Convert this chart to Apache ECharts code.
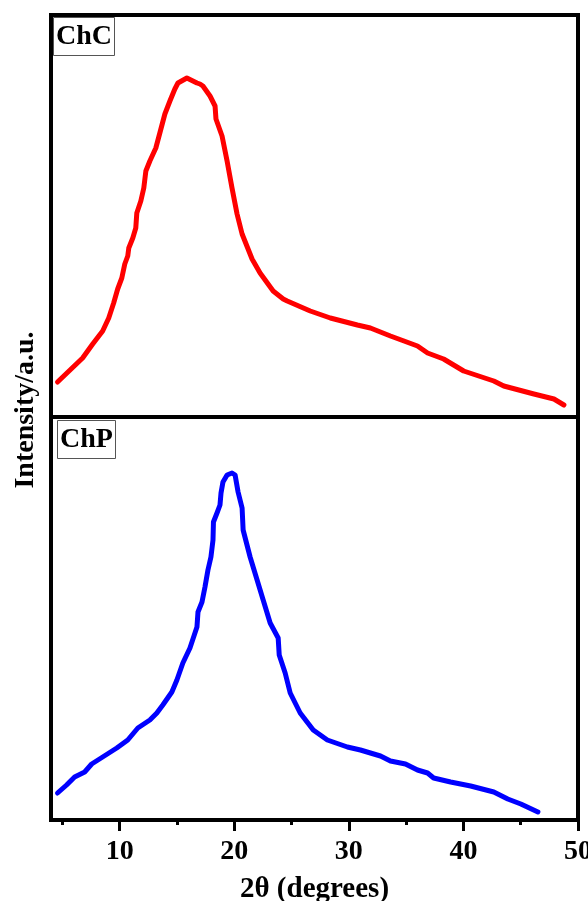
<!DOCTYPE html>
<html>
<head>
<meta charset="utf-8">
<script src="https://cdn.jsdelivr.net/npm/echarts@6.0.0/dist/echarts.min.js"></script>
<style>
  html, body { margin: 0; padding: 0; background: #fff; }
  #chart { width: 588px; height: 901px; }
</style>
</head>
<body>
<div id="chart"></div>
<script>
// XRD patterns (intensity in arbitrary units)
const chcTheta = [4.57, 6.76, 7.64, 8.51, 9.04, 9.47, 9.82, 10.18, 10.44, 10.70, 10.79, 11.14, 11.40, 11.49, 11.84, 12.10, 12.28, 12.63, 13.15, 13.50, 13.94, 14.38, 14.81, 15.08, 15.86, 16.74, 17.00, 17.26, 17.88, 18.32, 18.40, 18.93, 19.37, 19.80, 20.24, 20.68, 21.55, 22.25, 23.39, 24.27, 24.62, 26.63, 28.38, 30.74, 31.88, 33.63, 35.99, 36.87, 38.27, 40.02, 42.65, 43.52, 46.15, 47.90, 48.77];
const chcIntensity = [35, 59, 73, 86, 99, 114, 128, 139, 153, 161, 169, 179, 189, 204, 216, 229, 246, 256, 269, 284, 303, 316, 328, 334, 339, 334, 333, 331, 321, 311, 298, 281, 256, 229, 203, 183, 158, 144, 126, 118, 116, 106, 99, 92, 89, 81, 71, 64, 58, 46, 36, 31, 23, 18, 12];

const chpTheta = [4.57, 5.36, 6.06, 6.94, 7.55, 8.51, 9.74, 10.70, 11.58, 12.63, 13.24, 13.76, 14.55, 14.99, 15.51, 16.13, 16.74, 16.83, 17.18, 17.44, 17.70, 17.96, 18.14, 18.18, 18.49, 18.75, 18.84, 19.01, 19.37, 19.80, 20.07, 20.33, 20.68, 20.77, 21.38, 21.99, 22.52, 23.13, 23.83, 23.92, 24.44, 24.88, 25.75, 26.89, 28.12, 29.87, 31.01, 31.88, 32.76, 33.63, 34.94, 35.99, 36.87, 37.40, 38.88, 40.63, 42.65, 43.87, 45.01, 46.50];
const chpIntensity = [27, 35, 43, 48, 56, 63, 72, 80, 92, 100, 107, 115, 128, 140, 157, 172, 193, 208, 218, 233, 250, 263, 280, 298, 307, 315, 327, 338, 345, 347, 345, 328, 312, 290, 263, 240, 220, 197, 182, 165, 147, 127, 107, 90, 80, 73, 70, 67, 64, 59, 56, 50, 47, 42, 38, 34, 28, 21, 16, 8];

const majorTicks = [10, 20, 30, 40, 50];
const minorTicks = [5, 15, 25, 35, 45];

const chart = echarts.init(document.getElementById('chart'), null, { renderer: 'canvas' });

const serif = 'Liberation Serif';

function pairs(xs, ys) {
  return xs.map((x, i) => [x, ys[i]]);
}

const option = {
  animation: false,
  backgroundColor: '#fff',
  title: [
    {
      text: 'ChC',
      left: 53,
      top: 17,
      padding: [3, 3, 3, 3],
      borderColor: '#555',
      borderWidth: 1,
      backgroundColor: '#fff',
      textStyle: { fontFamily: serif, fontWeight: 'bold', fontSize: 28, lineHeight: 33, color: '#000' }
    },
    {
      text: 'ChP',
      left: 57,
      top: 420,
      padding: [3, 3, 3, 3],
      borderColor: '#555',
      borderWidth: 1,
      backgroundColor: '#fff',
      textStyle: { fontFamily: serif, fontWeight: 'bold', fontSize: 28, lineHeight: 33, color: '#000' }
    }
  ],
  grid: [
    { left: 51, right: 10, top: 15, height: 402, show: true, borderColor: '#000', borderWidth: 4, z: 5, outerBoundsMode: 'none', containLabel: false },
    { left: 51, right: 10, top: 417, bottom: 81, show: true, borderColor: '#000', borderWidth: 4, z: 5, outerBoundsMode: 'none', containLabel: false }
  ],
  xAxis: [
    { gridIndex: 0, type: 'value', min: 4, max: 50, show: false },
    {
      gridIndex: 1, type: 'value', min: 4, max: 50, position: 'bottom',
      name: '2θ (degrees)',
      nameLocation: 'middle',
      nameGap: 55,
      nameTextStyle: { fontFamily: serif, fontWeight: 'bold', fontSize: 29, color: '#000' },
      axisLine: { show: false },
      splitLine: { show: false },
      axisTick: { show: true, inside: false, length: 11, customValues: majorTicks, lineStyle: { color: '#000', width: 3 } },
      axisLabel: { show: true, customValues: majorTicks, margin: 18, fontFamily: serif, fontWeight: 'bold', fontSize: 28, color: '#000' }
    },
    {
      gridIndex: 1, type: 'value', min: 4, max: 50, position: 'bottom', offset: 0,
      axisLine: { show: false },
      splitLine: { show: false },
      axisLabel: { show: false },
      axisTick: { show: true, inside: false, length: 5, customValues: minorTicks, lineStyle: { color: '#000', width: 3 } }
    }
  ],
  yAxis: [
    { gridIndex: 0, type: 'value', min: 0, max: 402, show: false },
    { gridIndex: 1, type: 'value', min: 0, max: 403, show: false }
  ],
  graphic: [
    {
      type: 'text',
      x: 26,
      y: 410,
      rotation: Math.PI / 2,
      style: {
        text: 'Intensity/a.u.',
        fontFamily: serif,
        fontWeight: 'bold',
        fontSize: 28,
        fill: '#000',
        align: 'center',
        verticalAlign: 'middle'
      }
    }
  ],
  series: [
    {
      name: 'ChC',
      type: 'line',
      xAxisIndex: 0,
      yAxisIndex: 0,
      data: pairs(chcTheta, chcIntensity),
      showSymbol: false,
      lineStyle: { color: '#ff0000', width: 5, join: 'round', cap: 'round' }
    },
    {
      name: 'ChP',
      type: 'line',
      xAxisIndex: 1,
      yAxisIndex: 1,
      data: pairs(chpTheta, chpIntensity),
      showSymbol: false,
      lineStyle: { color: '#0000ff', width: 5, join: 'round', cap: 'round' }
    }
  ]
};

chart.setOption(option);
</script>
</body>
</html>
